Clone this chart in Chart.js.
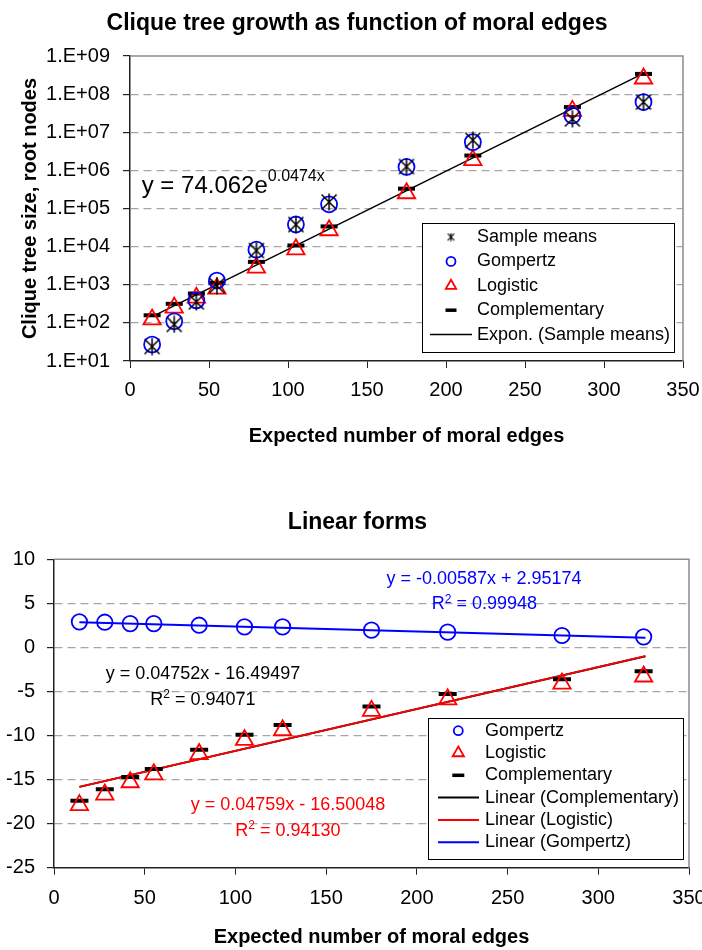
<!DOCTYPE html>
<html>
<head>
<meta charset="utf-8">
<title>Clique tree growth as function of moral edges</title>
<script src="https://cdn.jsdelivr.net/npm/chart.js@4.4.1/dist/chart.umd.min.js"></script>
<style>
  body { margin: 0; background: #fff; }
  #wrap { position: relative; width: 702px; height: 950px; }
  canvas { position: absolute; left: 0; }
  #growthChart { top: 0; }
  #linearChart { top: 460px; }
</style>
</head>
<body>
<div id="wrap">
  <canvas id="growthChart" width="702" height="460"></canvas>
  <canvas id="linearChart" width="702" height="490"></canvas>
</div>
<script>
// expected number of moral edges, same samples in both charts
const moralEdges = [14, 28, 42, 55, 80, 105, 126, 175, 217, 280, 325];

// upper chart: clique tree size (root nodes), log scale
const sampleMeans      = [24, 91, 355, 955, 7900, 38000, 148000, 1.26e6, 6.2e6, 2.24e7, 6.2e7];
const gompertzFit      = [27, 110, 390, 1290, 8300, 38000, 129000, 1.23e6, 5.5e6, 2.75e7, 6.2e7];
const logisticFit      = [123, 251, 457, 794, 2820, 8510, 26900, 251000, 1.86e6, 3.63e7, 2.57e8];
const complementaryFit = [158, 316, 589, 1120, 3980, 10700, 33900, 331000, 2.45e6, 4.57e7, 3.39e8];
const exponTrend       = [[14.7, 150], [325, 3.5e8]];
const growthTicks      = [1e1, 1e2, 1e3, 1e4, 1e5, 1e6, 1e7, 1e8, 1e9];
const growthTickLabels = ['1.E+01', '1.E+02', '1.E+03', '1.E+04', '1.E+05', '1.E+06', '1.E+07', '1.E+08', '1.E+09'];

// lower chart: linear forms
const gompertzLinear      = [2.9, 2.86, 2.7, 2.7, 2.52, 2.33, 2.33, 1.96, 1.73, 1.35, 1.2];
const logisticLinear      = [-17.9, -16.7, -15.3, -14.4, -12.1, -10.5, -9.4, -7.2, -5.9, -4.1, -3.3];
const complementaryLinear = [-17.4, -16.1, -14.7, -13.8, -11.6, -9.9, -8.8, -6.7, -5.3, -3.6, -2.7];
const complementaryTrend  = [[14, -15.83], [326, -1.0]];
const logisticTrend       = [[14, -15.83], [326, -0.99]];
const gompertzTrend       = [[14, 2.87], [326, 1.1]];

const FONT = '"Liberation Sans", Arial, sans-serif';
Chart.defaults.font.family = FONT;
Chart.defaults.color = '#000';

const toPoints = ys => moralEdges.map((x, i) => ({ x: x, y: ys[i] }));
const toLine = pts => pts.map(p => ({ x: p[0], y: p[1] }));

// Excel-like asterisk marker: an X with a vertical bar
function makeAsterisk(size, width) {
    const c = document.createElement('canvas');
    c.width = size; c.height = size;
    const g = c.getContext('2d');
    g.strokeStyle = '#000';
    g.lineWidth = width;
    const m = width;
    g.beginPath();
    g.moveTo(m, m); g.lineTo(size - m, size - m);
    g.moveTo(size - m, m); g.lineTo(m, size - m);
    g.moveTo(size / 2, 0.5); g.lineTo(size / 2, size - 0.5);
    g.stroke();
    return c;
}
const asteriskBig = makeAsterisk(18, 1.5);
const asteriskSmall = makeAsterisk(9, 1.2);

// legend drawn inside the plot, in a framed box
const boxLegend = {
    id: 'boxLegend',
    afterDatasetsDraw(chart, args, opts) {
        const ctx = chart.ctx;
        const b = opts.box;
        ctx.save();
        ctx.fillStyle = '#fff';
        ctx.fillRect(b.left, b.top, b.right - b.left, b.bottom - b.top);
        ctx.strokeStyle = '#000';
        ctx.lineWidth = 1;
        ctx.strokeRect(Math.round(b.left) + 0.5, Math.round(b.top) + 0.5,
            Math.round(b.right - b.left), Math.round(b.bottom - b.top));
        chart.data.datasets.forEach((ds, i) => {
            const y = opts.firstRow + i * opts.rowGap;
            const mk = ds.legendMarker;
            ctx.strokeStyle = ds.borderColor;
            ctx.fillStyle = 'rgba(0,0,0,0)';
            if (ds.showLine) {
                ctx.lineWidth = ds.borderWidth;
                ctx.beginPath();
                ctx.moveTo(opts.lineFrom, y);
                ctx.lineTo(opts.lineTo, y);
                ctx.stroke();
            } else {
                ctx.lineWidth = mk.borderWidth;
                Chart.helpers.drawPoint(ctx, {
                    pointStyle: mk.style, radius: mk.radius,
                    borderWidth: mk.borderWidth, rotation: 0
                }, opts.markerX, y);
            }
            ctx.fillStyle = '#000';
            ctx.font = opts.fontSize + 'px ' + FONT;
            ctx.textBaseline = 'middle';
            ctx.textAlign = 'left';
            ctx.fillText(ds.label, opts.textX, y);
        });
        ctx.restore();
    }
};

// trend line equations, with superscripts
const notes = {
    id: 'notes',
    afterDatasetsDraw(chart, args, opts) {
        const ctx = chart.ctx;
        opts.items.forEach(item => {
            const mainFont = item.size + 'px ' + FONT;
            const supFont = Math.round(item.size * item.supScale) + 'px ' + FONT;
            ctx.save();
            let total = 0;
            const widths = item.parts.map(p => {
                ctx.font = p.sup ? supFont : mainFont;
                const w = ctx.measureText(p.text).width;
                total += w;
                return w;
            });
            let x = item.align === 'left' ? item.x : item.x - total / 2;
            ctx.fillStyle = item.color;
            ctx.textBaseline = 'middle';
            ctx.textAlign = 'left';
            item.parts.forEach((p, k) => {
                ctx.font = p.sup ? supFont : mainFont;
                ctx.fillText(p.text, x, p.sup ? item.y - item.raise : item.y);
                x += widths[k];
            });
            ctx.restore();
        });
    }
};

// gray top and right edges of the plot area
const frame = {
    id: 'frame',
    beforeDatasetsDraw(chart) {
        const { ctx, chartArea: a } = chart;
        ctx.save();
        ctx.strokeStyle = '#8c8c8c';
        ctx.lineWidth = 1.5;
        ctx.beginPath();
        ctx.moveTo(a.left, a.top);
        ctx.lineTo(a.right, a.top);
        ctx.lineTo(a.right, a.bottom);
        ctx.stroke();
        ctx.restore();
    }
};

const gridColor = n => c => (c.index === 0 || c.index === n - 1) ? 'rgba(0,0,0,0)' : '#a6a6a6';

// ---------- upper chart ----------
new Chart(document.getElementById('growthChart'), {
    type: 'scatter',
    data: {
        datasets: [{
            label: 'Sample means',
            data: toPoints(sampleMeans),
            pointStyle: asteriskBig,
            borderColor: '#000',
            legendMarker: { style: asteriskSmall, radius: 4, borderWidth: 1 },
            order: 1
        }, {
            label: 'Gompertz',
            data: toPoints(gompertzFit),
            pointStyle: 'circle',
            pointRadius: 8,
            borderColor: '#0000ff',
            backgroundColor: 'rgba(0,0,0,0)',
            borderWidth: 1.8,
            legendMarker: { style: 'circle', radius: 4.5, borderWidth: 1.8 },
            order: 1
        }, {
            label: 'Logistic',
            data: toPoints(logisticFit),
            pointStyle: 'triangle',
            pointRadius: 10,
            borderColor: '#ff0000',
            backgroundColor: 'rgba(0,0,0,0)',
            borderWidth: 1.8,
            legendMarker: { style: 'triangle', radius: 6, borderWidth: 1.8 },
            order: 1
        }, {
            label: 'Complementary',
            data: toPoints(complementaryFit),
            pointStyle: 'line',
            pointRadius: 8.5,
            borderColor: '#000',
            borderWidth: 4,
            legendMarker: { style: 'line', radius: 5.5, borderWidth: 3.5 },
            order: 1
        }, {
            label: 'Expon. (Sample means)',
            data: toLine(exponTrend),
            showLine: true,
            pointRadius: 0,
            borderColor: '#000',
            borderWidth: 1.5,
            order: 2
        }]
    },
    options: {
        responsive: false,
        animation: false,
        layout: { padding: { left: 31, right: 19, top: 0, bottom: 0 } },
        plugins: {
            legend: { display: false },
            tooltip: { enabled: false },
            title: {
                display: true,
                text: 'Clique tree growth as function of moral edges',
                color: '#000',
                font: { size: 23, weight: 'bold' },
                padding: { top: 10.2, bottom: 18.2 }
            },
            boxLegend: {
                box: { left: 422, top: 223, right: 674, bottom: 352 },
                firstRow: 237, rowGap: 24.4,
                markerX: 451, lineFrom: 430, lineTo: 472, textX: 477, fontSize: 18
            },
            notes: {
                items: [{
                    parts: [{ text: 'y = 74.062e' }, { text: '0.0474x', sup: true }],
                    x: 141.7, y: 186, size: 24, supScale: 0.68, raise: 9,
                    color: '#000', align: 'left'
                }]
            }
        },
        scales: {
            x: {
                type: 'linear', min: 0, max: 350,
                ticks: { stepSize: 50, padding: 10, maxRotation: 0, color: '#000', font: { size: 20 } },
                grid: { drawOnChartArea: false, tickLength: 7, tickColor: '#222', color: '#222' },
                border: { color: '#222', width: 1.5 },
                title: {
                    display: true, text: 'Expected number of moral edges', color: '#000',
                    font: { size: 20, weight: 'bold' }, padding: { top: 0, bottom: 12 }
                },
                afterFit: s => { s.height = 99; s.paddingRight = 0; }
            },
            y: {
                type: 'logarithmic', min: 10, max: 1e9,
                afterBuildTicks: s => { s.ticks = growthTicks.map(v => ({ value: v })); },
                ticks: {
                    autoSkip: false, padding: 13, color: '#000', font: { size: 20 },
                    callback: (v, i) => growthTickLabels[i]
                },
                grid: { color: gridColor(growthTicks.length), lineWidth: 1.2, tickLength: 7, tickColor: '#222' },
                border: { color: '#222', width: 1.5, dash: [8, 5] },
                title: {
                    display: true, text: 'Clique tree size, root nodes', color: '#000',
                    font: { size: 20, weight: 'bold' }, padding: { top: -13, bottom: 0 }
                },
                afterFit: s => { s.width = 99; }
            }
        }
    },
    plugins: [frame, boxLegend, notes]
});

// ---------- lower chart ----------
new Chart(document.getElementById('linearChart'), {
    type: 'scatter',
    data: {
        datasets: [{
            label: 'Gompertz',
            data: toPoints(gompertzLinear),
            pointStyle: 'circle',
            pointRadius: 7.7,
            borderColor: '#0000ff',
            backgroundColor: 'rgba(0,0,0,0)',
            borderWidth: 1.8,
            legendMarker: { style: 'circle', radius: 4.5, borderWidth: 1.8 },
            order: 1
        }, {
            label: 'Logistic',
            data: toPoints(logisticLinear),
            pointStyle: 'triangle',
            pointRadius: 10,
            borderColor: '#ff0000',
            backgroundColor: 'rgba(0,0,0,0)',
            borderWidth: 1.8,
            legendMarker: { style: 'triangle', radius: 6.5, borderWidth: 1.8 },
            order: 1
        }, {
            label: 'Complementary',
            data: toPoints(complementaryLinear),
            pointStyle: 'line',
            pointRadius: 9,
            borderColor: '#000',
            borderWidth: 4,
            legendMarker: { style: 'line', radius: 6, borderWidth: 3.5 },
            order: 1
        }, {
            label: 'Linear (Complementary)',
            data: toLine(complementaryTrend),
            showLine: true,
            pointRadius: 0,
            borderColor: '#000',
            borderWidth: 2,
            order: 3
        }, {
            label: 'Linear (Logistic)',
            data: toLine(logisticTrend),
            showLine: true,
            pointRadius: 0,
            borderColor: '#ff0000',
            borderWidth: 2,
            order: 2
        }, {
            label: 'Linear (Gompertz)',
            data: toLine(gompertzTrend),
            showLine: true,
            pointRadius: 0,
            borderColor: '#0000ff',
            borderWidth: 2,
            order: 2
        }]
    },
    options: {
        responsive: false,
        animation: false,
        layout: { padding: { left: 22, right: 9, top: 0, bottom: 0 } },
        plugins: {
            legend: { display: false },
            tooltip: { enabled: false },
            title: {
                display: true,
                text: 'Linear forms',
                color: '#000',
                font: { size: 23, weight: 'bold' },
                padding: { top: 49.2, bottom: 22.5 }
            },
            boxLegend: {
                box: { left: 428, top: 258, right: 683, bottom: 399 },
                firstRow: 270.7, rowGap: 22.3,
                markerX: 458.3, lineFrom: 438, lineTo: 479, textX: 485, fontSize: 18
            },
            notes: {
                items: [
                    { parts: [{ text: 'y = -0.00587x + 2.95174' }], x: 484, y: 119, size: 18, color: '#0000ff' },
                    { parts: [{ text: 'R' }, { text: '2', sup: true }, { text: ' = 0.99948' }], x: 484.5, y: 144.3, size: 18, supScale: 0.65, raise: 5, color: '#0000ff' },
                    { parts: [{ text: 'y = 0.04752x - 16.49497' }], x: 203, y: 214.3, size: 18, color: '#000' },
                    { parts: [{ text: 'R' }, { text: '2', sup: true }, { text: ' = 0.94071' }], x: 203, y: 240, size: 18, supScale: 0.65, raise: 5, color: '#000' },
                    { parts: [{ text: 'y = 0.04759x - 16.50048' }], x: 288, y: 345, size: 18, color: '#ff0000' },
                    { parts: [{ text: 'R' }, { text: '2', sup: true }, { text: ' = 0.94130' }], x: 288, y: 370.7, size: 18, supScale: 0.65, raise: 5, color: '#ff0000' }
                ]
            }
        },
        scales: {
            x: {
                type: 'linear', min: 0, max: 350,
                ticks: { stepSize: 50, padding: 11.3, maxRotation: 0, color: '#000', font: { size: 20 } },
                grid: { drawOnChartArea: false, tickLength: 7, tickColor: '#222', color: '#222' },
                border: { color: '#222', width: 1.5 },
                title: {
                    display: true, text: 'Expected number of moral edges', color: '#000',
                    font: { size: 20, weight: 'bold' }, padding: { top: 0, bottom: 1 }
                },
                afterFit: s => { s.height = 82.3; s.paddingRight = 0; }
            },
            y: {
                type: 'linear', min: -25, max: 10,
                ticks: { stepSize: 5, autoSkip: false, padding: 12, color: '#000', font: { size: 20 } },
                grid: { color: gridColor(8), lineWidth: 1.2, tickLength: 7, tickColor: '#222' },
                border: { color: '#222', width: 1.5, dash: [8, 5] },
                afterFit: s => {
                    s.width = 32;
                    // labels reach past the narrow axis box; keep them unclipped
                    s._computeLabelArea = () => undefined;
                }
            }
        }
    },
    plugins: [frame, boxLegend, notes]
});
</script>
</body>
</html>
